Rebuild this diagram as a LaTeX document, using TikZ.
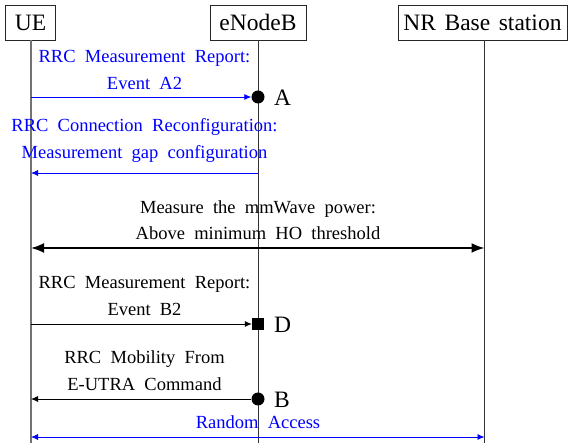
\documentclass[tikz,border=0pt]{standalone}
\usepackage{fontspec}
\setmainfont[WordSpace=2]{Liberation Serif}
\newfontfamily\labelfont[WordSpace=1.45]{Liberation Serif}
\usetikzlibrary{arrows.meta}
\definecolor{msgblue}{RGB}{0,0,255}
\tikzset{
  entity/.style={draw=black!85, line width=0.8pt, inner sep=0pt, minimum height=35pt,
    font=\labelfont\fontsize{23.5}{26}\selectfont},
  lifeline/.style={draw=black!80, line width=0.8pt},
  msgtext/.style={align=center, font=\fontsize{18.5}{26.5}\selectfont, inner sep=0pt},
  msg/.style={line width=0.8pt, -{Latex[length=7pt,width=6pt]}},
  biglink/.style={line width=1.8pt, {Latex[length=13pt,width=10pt]}-{Latex[length=13pt,width=10pt]}},
  thinlink/.style={line width=0.8pt, {Latex[length=7pt,width=6pt]}-{Latex[length=7pt,width=6pt]}},
  dotmark/.style={circle, fill=black, minimum size=13pt, inner sep=0pt},
  sqmark/.style={rectangle, fill=black, minimum size=12pt, inner sep=0pt},
  tag/.style={font=\labelfont\fontsize{23.5}{26}\selectfont, anchor=west, inner sep=0pt}
}
\begin{document}
\begin{tikzpicture}[x=1pt, y=-1pt]
  \useasboundingbox (0,0) rectangle (571,443);

  % participants
  \node[entity, minimum width=50pt]  (ue)  at (30.5,22.5) {UE};
  \node[entity, minimum width=96pt]  (enb) at (258,22.5) {eNodeB};
  \node[entity, minimum width=169pt] (nr)  at (482.5,22.5) {NR Base station};

  % lifeline ends
  \coordinate (ueEnd)  at (31,443);
  \coordinate (enbEnd) at (258,443);
  \coordinate (nrEnd)  at (484.5,443);
  \draw[lifeline, draw=black!55, line width=1.2pt] (ue.south -| ueEnd) -- (ueEnd);
  \draw[lifeline] (enb.south) -- (enbEnd);
  \draw[lifeline] (nr.south -| nrEnd) -- (nrEnd);

  % RRC measurement report, event A2
  \node[msgtext, text=msgblue] (txtA) at (144.5,70) {RRC Measurement Report:\\Event A2};
  \coordinate (ueA) at (31,97);
  \node[dotmark] (dotA) at (258,97) {};
  \node[tag] (tagA) at (274,98) {A};
  \draw[msg, msgblue] (ueA) -- (dotA.west);

  % RRC connection reconfiguration
  \node[msgtext, text=msgblue] (txtR) at (144.5,140.5) {RRC Connection Reconfiguration:\\Measurement gap configuration};
  \coordinate (enbR) at (258,173);
  \coordinate (ueR) at (31,173);
  \draw[msg, msgblue] (enbR) -- (ueR);

  % mmWave power measurement
  \node[msgtext] (txtM) at (258,220) {Measure the mmWave power:\\Above minimum HO threshold};
  \coordinate (ueM) at (31,248);
  \coordinate (nrM) at (484.5,248);
  \draw[biglink] (ueM) -- (nrM);

  % RRC measurement report, event B2
  \node[msgtext] (txtD) at (144.5,296) {RRC Measurement Report:\\Event B2};
  \coordinate (ueD) at (31,324);
  \node[sqmark] (sqD) at (258,324) {};
  \node[tag] (tagD) at (274,325) {D};
  \draw[msg] (ueD) -- (sqD.west);

  % RRC mobility from E-UTRA command
  \node[msgtext] (txtB) at (144.5,370.5) {RRC Mobility From\\E-UTRA Command};
  \node[dotmark] (dotB) at (258,399) {};
  \node[tag] (tagB) at (274,400) {B};
  \coordinate (ueB) at (31,399);
  \draw[msg] (dotB.west) -- (ueB);

  % random access
  \node[msgtext, text=msgblue] (txtRA) at (258,422) {Random Access};
  \coordinate (ueRA) at (31,437);
  \coordinate (nrRA) at (484.5,437);
  \draw[thinlink, msgblue] (ueRA) -- (nrRA);
\end{tikzpicture}
\end{document}
